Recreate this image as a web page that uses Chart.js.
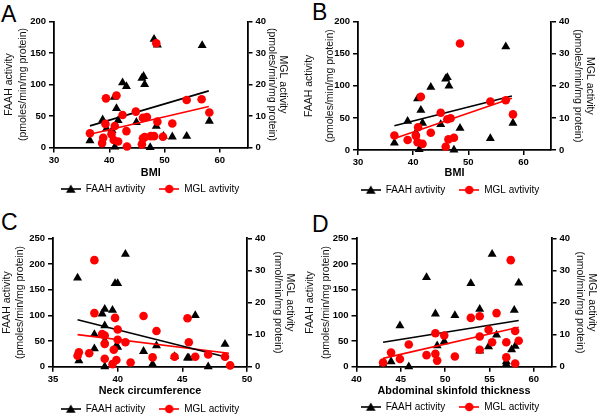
<!DOCTYPE html>
<html><head><meta charset="utf-8">
<script src="https://cdn.jsdelivr.net/npm/chart.js@4.4.0/dist/chart.umd.min.js"></script>
<style>
html,body{margin:0;padding:0;width:600px;height:415px;overflow:hidden;background:#fff;}
canvas{position:absolute;}
.lbl{position:absolute;font-family:'Liberation Sans',Arial,Helvetica,sans-serif;font-size:23px;color:#000;line-height:1;}
</style></head><body>
<div class="lbl" style="left:1px;top:2.5px">A</div>
<div class="lbl" style="left:312px;top:1px">B</div>
<div class="lbl" style="left:1px;top:210.5px">C</div>
<div class="lbl" style="left:312px;top:212.5px">D</div>
<canvas id="cA" width="300" height="204" style="left:0;top:0"></canvas>
<canvas id="cB" width="300" height="205" style="left:300px;top:0"></canvas>
<canvas id="cC" width="300" height="219" style="left:0;top:205px"></canvas>
<canvas id="cD" width="300" height="217" style="left:300px;top:205px"></canvas>
<script>
// ---------- DATA ----------
// Panel A : BMI
const aFaahX = [36.5,38.8,39.5,40.5,40.9,41.3,41.6,41.0,42.4,43.1,44.9,45.9,46.2,46.4,47.4,48.1,48.7,48.5,49.8,51.4,54.0,56.8,58.1];
const aFaahY = [11,44,30,27,80,62,43,1,103,97,40,110,113,100,0,172,163,34,18,17,18,162,42];
const aMglX  = [36.5,38.7,38.9,39.4,39.3,40.4,40.8,41.0,41.3,41.6,42.4,43.1,43.2,44.8,45.9,46.1,46.4,46.1,46.8,47.5,48.1,48.7,48.5,49.7,51.4,54.0,56.7,58.1];
const aMglY  = [4.5,1.4,3.1,15.6,7.5,4.2,2.4,6.8,16.5,1.9,10.3,5.2,0.3,11.4,1.0,2.9,3.3,9.4,9.7,3.6,3.6,8.2,33.1,3.4,7.6,15.1,15.3,11.1];
const aFaahFit = [[36.5,34.3],[58.0,89.9]];
const aMglFit  = [[36.5,4.2],[58.0,13.0]];
// Panel B : BMI (subset)
const bFaahX = [36.6,39.0,40.5,40.8,41.4,41.7,41.1,43.2,45.0,45.9,46.2,46.5,47.4,48.5,54.0,56.8,58.1];
const bFaahY = [11,45,27,80,62,42,1,98,40,111,113,100,0,34,18,161,42];
const bMglX  = [36.6,39.0,40.5,40.9,40.8,41.4,41.7,43.2,45.0,45.9,46.2,46.4,46.8,47.4,48.5,54.0,56.8,58.1];
const bMglY  = [4.5,3.1,4.4,7.1,2.4,16.6,1.9,5.4,11.6,1.0,9.6,3.3,9.9,3.8,33.2,15.1,15.5,11.1];
const bFaahFit = [[36.6,37.9],[57.9,84.2]];
const bMglFit  = [[36.6,3.6],[57.9,16.1]];
// Panel C : Neck circumference
const cFaahX = [36.9,37.0,38.2,38.2,38.8,39.0,39.0,39.0,39.0,39.6,39.8,40.0,39.9,40.0,40.6,42.0,42.7,43.0,44.4,45.4,45.5,46.0,47.0,48.3];
const cFaahY = [173,12,63,35,103,112,80,50,0,110,162,162,41,38,219,30,5,41,20,17,17,100,0,44];
const cMglX  = [36.9,37.0,37.8,38.2,38.2,38.8,39.0,39.0,39.0,39.6,39.8,39.7,39.9,40.0,40.0,40.6,41.0,42.0,42.7,43.0,44.4,45.4,45.5,46.0,47.0,48.3,48.7];
const cMglY  = [3.4,4.5,4.2,33.2,16.7,10.2,9.7,7.1,2.5,0.8,15.2,5.3,2.1,11.6,8.4,7.6,1.3,15.8,2.9,11.1,3.1,15.1,7.6,3.1,3.8,3.1,0.4];
const cFaahFit = [[36.9,91.4],[48.6,17.6]];
const cMglFit  = [[36.9,10.0],[48.6,4.2]];
// Panel D : Abdominal skinfold thickness
const dFaahX = [43.0,43.9,44.9,45.9,47.9,48.9,49.1,49.9,51.1,52.9,53.9,53.9,54.9,55.3,55.8,56.9,56.9,57.5,57.9,57.8,58.3];
const dFaahY = [5,10,80,0,174,103,41,49,100,162,112,31,39,219,62,10,5,33,40,110,163];
const dMglX  = [43.0,43.9,44.9,45.9,47.9,48.9,48.9,49.1,49.9,51.1,52.9,53.9,53.9,53.9,54.9,55.3,55.8,56.9,56.9,57.4,57.9,57.9,58.3];
const dMglY  = [1.3,4.4,2.4,6.9,3.6,10.4,4.0,1.9,9.7,3.2,15.2,15.7,9.4,5.3,11.5,7.6,16.7,7.6,2.9,33.2,11.1,1.0,8.1];
const dFaahFit = [[43.0,47.6],[58.3,90.1]];
const dMglFit  = [[43.0,2.6],[58.3,12.3]];

// Axis ranges / tick labels
const xRangeBMI = [30, 65], xStepBMI = 10;
const xRangeNeck = [35, 50], xStepNeck = 5;
const xRangeSkin = [40, 62], xStepSkin = 5;
const yFaahRangeAB = [0, 200], yFaahStepAB = 50;
const yFaahRangeCD = [0, 250], yFaahStepCD = 50;
const yMglRange = [0, 40], yMglStep = 10;

// Text
const leftTitle = ['FAAH activity', '(pmoles/min/mg protein)'];
const rightTitleAB = ['MGL activity', '(pmoles/min/mg protein)'];
const rightTitleCD = ['MGL activity', '(nmol/min/mg protein)'];

// ---------- DRAWING ----------
const FONT = "'Liberation Sans', Arial, Helvetica, sans-serif";
const RED = '#ff0000';

function icon(color, shape) {
  const c = document.createElement('canvas');
  c.width = 20; c.height = 10;
  const g = c.getContext('2d');
  g.strokeStyle = color; g.lineWidth = 1.6;
  g.beginPath(); g.moveTo(0, 5); g.lineTo(20, 5); g.stroke();
  g.fillStyle = color;
  g.beginPath();
  if (shape === 'triangle') { g.moveTo(10, 0.5); g.lineTo(14.8, 8.8); g.lineTo(5.2, 8.8); g.closePath(); }
  else { g.arc(10, 5, 4.3, 0, Math.PI * 2); }
  g.fill();
  return c;
}
const iconF = icon('#000', 'triangle');
const iconM = icon(RED, 'circle');

function pts(xs, ys) { return xs.map((x, i) => ({x: x, y: ys[i]})); }
function fitPts(f) { return f.map(p => ({x: p[0], y: p[1]})); }

function panel(id, P) {
  const G = P.geo;
  const legendH = 10 + 14 + 10;
  const axisBottom = G.H - legendH;
  new Chart(document.getElementById(id), {
    type: 'scatter',
    data: {datasets: [
      {label: P.faahLabel, data: pts(P.fx, P.fy), yAxisID: 'y', pointStyle: 'triangle', pointRadius: 5.2,
       backgroundColor: '#000', borderColor: '#000', borderWidth: 0, order: 3, clip: false},
      {label: P.mglLabel, data: pts(P.mx, P.my), yAxisID: 'y1', pointStyle: 'circle', pointRadius: 4.3,
       backgroundColor: RED, borderColor: RED, borderWidth: 0, order: 1, clip: false},
      {label: 'fitF', type: 'line', data: fitPts(P.ff), yAxisID: 'y', borderColor: '#000', borderWidth: 1.6,
       pointRadius: 0, fill: false, order: 2},
      {label: 'fitM', type: 'line', data: fitPts(P.mf), yAxisID: 'y1', borderColor: RED, borderWidth: 1.6,
       pointRadius: 0, fill: false, order: 2}
    ]},
    options: {
      responsive: false, animation: false,
      layout: {padding: {top: G.top, left: 0, right: 0, bottom: 0}},
      plugins: {
        tooltip: {enabled: false},
        legend: {position: 'bottom', labels: {
          usePointStyle: true, pointStyleWidth: 20, padding: 14, color: '#000',
          font: {family: FONT, size: 10},
          generateLabels: () => [
            {text: P.faahLabel, pointStyle: iconF, fillStyle: '#000', strokeStyle: '#000', lineWidth: 0, fontColor: '#000', datasetIndex: 0, hidden: false},
            {text: P.mglLabel, pointStyle: iconM, fillStyle: RED, strokeStyle: RED, lineWidth: 0, fontColor: '#000', datasetIndex: 1, hidden: false}
          ]
        }}
      },
      scales: {
        x: {type: 'linear', position: 'bottom', min: P.xr[0], max: P.xr[1],
          ticks: {stepSize: P.xs, includeBounds: false, color: '#000', padding: 2, font: {family: FONT, size: 9.5, weight: 'bold'}},
          grid: {drawOnChartArea: false, drawTicks: true, tickLength: 5, color: '#000', lineWidth: 1.5},
          border: {display: true, color: '#000', width: 1.8},
          title: {display: true, text: P.xTitle, color: '#000', font: {family: FONT, size: 10.8, weight: 'bold', lineHeight: 1.2},
            padding: {top: 0, bottom: (axisBottom - G.xt) - 6.5}},
          afterFit: s => { s.height = axisBottom - G.bottom; }
        },
        y: {type: 'linear', position: 'left', min: P.yr[0], max: P.yr[1],
          ticks: {stepSize: P.ys, color: '#000', padding: 3, font: {family: FONT, size: 9.5, weight: 'bold'}},
          grid: {drawOnChartArea: false, drawTicks: true, tickLength: 5, color: '#000', lineWidth: 1.5},
          border: {display: true, color: '#000', width: 1.8},
          title: {display: true, text: leftTitle, color: '#111', font: {family: FONT, size: 10.5, lineHeight: G.llh + 'px'},
            padding: {top: G.l1 - G.llh / 2, bottom: 0}},
          afterFit: s => { s.width = G.left; }
        },
        y1: {type: 'linear', position: 'right', min: yMglRange[0], max: yMglRange[1],
          ticks: {stepSize: yMglStep, color: '#000', padding: 3, font: {family: FONT, size: 9.5, weight: 'bold'}},
          grid: {drawOnChartArea: false, drawTicks: true, tickLength: 5, color: '#000', lineWidth: 1.5},
          border: {display: true, color: '#000', width: 1.8},
          title: {display: true, text: P.rTitle, color: '#111', font: {family: FONT, size: 10.5, lineHeight: G.rlh + 'px'},
            padding: {top: (300 - G.r1) - G.rlh / 2, bottom: 0}},
          afterFit: s => { s.width = 300 - G.right; }
        }
      }
    }
  });
}

panel('cA', {fx: aFaahX, fy: aFaahY, mx: aMglX, my: aMglY, ff: aFaahFit, mf: aMglFit,
  xr: xRangeBMI, xs: xStepBMI, yr: yFaahRangeAB, ys: yFaahStepAB, xTitle: 'BMI', rTitle: rightTitleAB,
  faahLabel: 'FAAH avtivity', mglLabel: 'MGL avtivity',
  geo: {H: 204, top: 21.5, bottom: 147.5, left: 54, right: 247.5, xt: 173.5, l1: 9.5, llh: 13.5, r1: 283.3, rlh: 11.6}});
panel('cB', {fx: bFaahX, fy: bFaahY, mx: bMglX, my: bMglY, ff: bFaahFit, mf: bMglFit,
  xr: xRangeBMI, xs: xStepBMI, yr: yFaahRangeAB, ys: yFaahStepAB, xTitle: 'BMI', rTitle: rightTitleAB,
  faahLabel: 'FAAH avtivity', mglLabel: 'MGL avtivity',
  geo: {H: 205, top: 21.7, bottom: 150, left: 58, right: 251, xt: 173.5, l1: 9, llh: 21, r1: 290, rlh: 12}});
panel('cC', {fx: cFaahX, fy: cFaahY, mx: cMglX, my: cMglY, ff: cFaahFit, mf: cMglFit,
  xr: xRangeNeck, xs: xStepNeck, yr: yFaahRangeCD, ys: yFaahStepCD, xTitle: 'Neck circumference', rTitle: rightTitleCD,
  faahLabel: 'FAAH activity', mglLabel: 'MGL activity',
  geo: {H: 219, top: 33.3, bottom: 161.7, left: 53, right: 247, xt: 185.7, l1: 7, llh: 13, r1: 290, rlh: 12}});
panel('cD', {fx: dFaahX, fy: dFaahY, mx: dMglX, my: dMglY, ff: dFaahFit, mf: dMglFit,
  xr: xRangeSkin, xs: xStepSkin, yr: yFaahRangeCD, ys: yFaahStepCD, xTitle: 'Abdominal skinfold thickness', rTitle: rightTitleCD,
  faahLabel: 'FAAH activity', mglLabel: 'MGL activity',
  geo: {H: 217, top: 33.3, bottom: 161.7, left: 56.5, right: 251.5, xt: 186, l1: 10, llh: 16, r1: 291.5, rlh: 12}});
</script>
</body></html>
